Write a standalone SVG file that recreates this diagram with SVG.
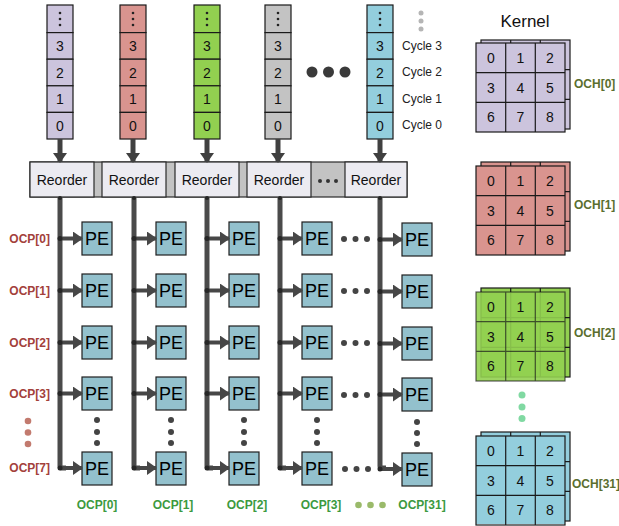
<svg xmlns="http://www.w3.org/2000/svg" width="619" height="526" viewBox="0 0 619 526">
  <defs>
    <style>
      text { font-family: "Liberation Sans", Arial, sans-serif; }
      .cell { stroke: #1a1a1a; stroke-width: 1.2; }
      .num { font-size: 14px; text-anchor: middle; fill: #111; }
      .cyc { font-size: 12px; fill: #222; }
      .pe { fill: #93c1cd; stroke: #1e1e1e; stroke-width: 1.2; }
      .pet { font-size: 18px; text-anchor: middle; fill: #000; }
      .reo { fill: #ecebf1; stroke: #2a2a2a; stroke-width: 1.2; }
      .reot { font-size: 14px; text-anchor: middle; fill: #111; }
      .bus { stroke: #4a4a4a; stroke-width: 5; fill: none; }
      .arr { stroke: #474747; stroke-width: 4; fill: none; }
      .ocpl { font-size: 12px; font-weight: bold; fill: #a3413b; text-anchor: end; }
      .ocpb { font-size: 12px; font-weight: bold; fill: #3c9a3f; text-anchor: middle; }
      .och { font-size: 12px; font-weight: bold; fill: #5b6e2f; }
      .kl { stroke: #1a1a1a; stroke-width: 1.2; fill: none; }
      .dot { fill: #444; }
      .purple { fill: #ccc4dd; }
      .red { fill: #d9948f; }
      .green { fill: #92d050; }
      .gray { fill: #c3c3c3; }
      .blue { fill: #93cedd; }
    </style>
    <marker id="ah" markerUnits="userSpaceOnUse" markerWidth="10" markerHeight="14" refX="9" refY="7" orient="auto">
      <path d="M0,0 L10,7 L0,14 Z" fill="#474747"/>
    </marker>
    <marker id="ahd" markerUnits="userSpaceOnUse" markerWidth="10" markerHeight="14" refX="9" refY="7" orient="auto">
      <path d="M0,0 L10,7 L0,14 Z" fill="#404040"/>
    </marker>
    <!-- one input column of 5 cells -->
    <g id="stack">
      <rect class="cell" x="0" y="0" width="26" height="27.6"/>
      <rect class="cell" x="0" y="27.6" width="26" height="26.6"/>
      <rect class="cell" x="0" y="54.2" width="26" height="26.6"/>
      <rect class="cell" x="0" y="80.8" width="26" height="26.6"/>
      <rect class="cell" x="0" y="107.4" width="26" height="26.6"/>
      <circle cx="13" cy="8" r="1.3" fill="#222"/>
      <circle cx="13" cy="14" r="1.3" fill="#222"/>
      <circle cx="13" cy="20" r="1.3" fill="#222"/>
      <text class="num" x="13" y="46">3</text>
      <text class="num" x="13" y="72.5">2</text>
      <text class="num" x="13" y="99">1</text>
      <text class="num" x="13" y="125.5">0</text>
    </g>
    <!-- 3x3 kernel plane grid lines and digits -->
    <g id="kgrid">
      <rect class="kl" x="0" y="0" width="89" height="89"/>
      <line class="kl" x1="29.7" y1="0" x2="29.7" y2="89"/>
      <line class="kl" x1="59.3" y1="0" x2="59.3" y2="89"/>
      <line class="kl" x1="0" y1="29.7" x2="89" y2="29.7"/>
      <line class="kl" x1="0" y1="59.3" x2="89" y2="59.3"/>
    </g>
    <g id="kdigits">
      <text class="num" x="15" y="20">0</text>
      <text class="num" x="44.5" y="20">1</text>
      <text class="num" x="74" y="20">2</text>
      <text class="num" x="15" y="49.5">3</text>
      <text class="num" x="44.5" y="49.5">4</text>
      <text class="num" x="74" y="49.5">5</text>
      <text class="num" x="15" y="79">6</text>
      <text class="num" x="44.5" y="79">7</text>
      <text class="num" x="74" y="79">8</text>
    </g>
    <g id="pebox">
      <rect class="pe" x="0" y="0" width="30" height="33"/>
      <text class="pet" x="15" y="23">PE</text>
    </g>
  </defs>

  <!-- input columns -->
  <g id="in0" transform="translate(47,5)"><use href="#stack" class="purple"/></g>
  <g id="in1" transform="translate(120,5)"><use href="#stack" class="red"/></g>
  <g id="in2" transform="translate(194,5)"><use href="#stack" class="green"/></g>
  <g id="in3" transform="translate(265,5)"><use href="#stack" class="gray"/></g>
  <g id="in4" transform="translate(367,5)"><use href="#stack" class="blue"/></g>

  <!-- big dots between input columns -->
  <g id="in-dots" fill="#3a3a3a">
    <circle cx="312" cy="72" r="5.5"/>
    <circle cx="328.5" cy="72" r="5.5"/>
    <circle cx="345" cy="72" r="5.5"/>
  </g>

  <!-- cycle labels -->
  <g id="cycles">
    <circle cx="421" cy="13" r="2.5" fill="#b5b5b5"/>
    <circle cx="421" cy="21" r="2.5" fill="#b5b5b5"/>
    <circle cx="421" cy="29" r="2.5" fill="#b5b5b5"/>
    <text class="cyc" x="402" y="49.5">Cycle 3</text>
    <text class="cyc" x="402" y="76">Cycle 2</text>
    <text class="cyc" x="402" y="102.5">Cycle 1</text>
    <text class="cyc" x="402" y="129">Cycle 0</text>
  </g>

  <!-- reorder bar -->
  <g id="reorder">
    <rect x="30" y="162" width="377" height="35" fill="#c3c3c3" stroke="#2a2a2a" stroke-width="1.2"/>
    <rect class="reo" x="30" y="162" width="64" height="35"/>
    <rect class="reo" x="102" y="162" width="64" height="35"/>
    <rect class="reo" x="175" y="162" width="64" height="35"/>
    <rect class="reo" x="247" y="162" width="64" height="35"/>
    <rect class="reo" x="345" y="162" width="62" height="35"/>
    <text class="reot" x="62" y="185">Reorder</text>
    <text class="reot" x="134" y="185">Reorder</text>
    <text class="reot" x="207" y="185">Reorder</text>
    <text class="reot" x="279" y="185">Reorder</text>
    <text class="reot" x="376" y="185">Reorder</text>
    <circle cx="320" cy="181" r="2" fill="#333"/>
    <circle cx="328" cy="181" r="2" fill="#333"/>
    <circle cx="336" cy="181" r="2" fill="#333"/>
  </g>

  <!-- PE array -->
  <g id="pe-array">
    <g id="pe-c0">
      <use href="#pebox" x="82" y="222"/>
      <use href="#pebox" x="82" y="274"/>
      <use href="#pebox" x="82" y="326"/>
      <use href="#pebox" x="82" y="377"/>
      <use href="#pebox" x="82" y="452"/>
    </g>
    <g id="pe-c1">
      <use href="#pebox" x="156" y="222"/>
      <use href="#pebox" x="156" y="274"/>
      <use href="#pebox" x="156" y="326"/>
      <use href="#pebox" x="156" y="377"/>
      <use href="#pebox" x="156" y="452"/>
    </g>
    <g id="pe-c2">
      <use href="#pebox" x="229" y="222"/>
      <use href="#pebox" x="229" y="274"/>
      <use href="#pebox" x="229" y="326"/>
      <use href="#pebox" x="229" y="377"/>
      <use href="#pebox" x="229" y="452"/>
    </g>
    <g id="pe-c3">
      <use href="#pebox" x="302" y="222"/>
      <use href="#pebox" x="302" y="274"/>
      <use href="#pebox" x="302" y="326"/>
      <use href="#pebox" x="302" y="377"/>
      <use href="#pebox" x="302" y="452"/>
    </g>
    <g id="pe-c4">
      <use href="#pebox" x="402" y="223"/>
      <use href="#pebox" x="402" y="275"/>
      <use href="#pebox" x="402" y="327"/>
      <use href="#pebox" x="402" y="378"/>
      <use href="#pebox" x="402" y="453"/>
    </g>
  </g>

  <!-- connectors -->
  <g id="connectors">
    <!-- input columns to reorder units -->
    <g stroke="#404040" stroke-width="5" marker-end="url(#ahd)">
      <line x1="60" y1="139" x2="60" y2="162"/>
      <line x1="133" y1="139" x2="133" y2="162"/>
      <line x1="207" y1="139" x2="207" y2="162"/>
      <line x1="278" y1="139" x2="278" y2="162"/>
      <line x1="380" y1="139" x2="380" y2="162"/>
    </g>
    <!-- vertical buses -->
    <path class="bus" d="M60,197 V466 Q60,468 62,468 H66"/>
    <path class="bus" d="M134,197 V466 Q134,468 136,468 H140"/>
    <path class="bus" d="M207,197 V466 Q207,468 209,468 H213"/>
    <path class="bus" d="M280,197 V466 Q280,468 282,468 H286"/>
    <path class="bus" d="M380,197 V466 Q380,468 382,468 H386"/>
    <!-- bus to PE arrows -->
    <g class="arr" marker-end="url(#ah)">
      <line x1="60" y1="238.5" x2="82" y2="238.5"/>
      <line x1="60" y1="290.5" x2="82" y2="290.5"/>
      <line x1="60" y1="342.5" x2="82" y2="342.5"/>
      <line x1="60" y1="393.5" x2="82" y2="393.5"/>
      <line x1="60" y1="468" x2="82" y2="468"/>
      <line x1="134" y1="238.5" x2="156" y2="238.5"/>
      <line x1="134" y1="290.5" x2="156" y2="290.5"/>
      <line x1="134" y1="342.5" x2="156" y2="342.5"/>
      <line x1="134" y1="393.5" x2="156" y2="393.5"/>
      <line x1="134" y1="468" x2="156" y2="468"/>
      <line x1="207" y1="238.5" x2="229" y2="238.5"/>
      <line x1="207" y1="290.5" x2="229" y2="290.5"/>
      <line x1="207" y1="342.5" x2="229" y2="342.5"/>
      <line x1="207" y1="393.5" x2="229" y2="393.5"/>
      <line x1="207" y1="468" x2="229" y2="468"/>
      <line x1="280" y1="238.5" x2="302" y2="238.5"/>
      <line x1="280" y1="290.5" x2="302" y2="290.5"/>
      <line x1="280" y1="342.5" x2="302" y2="342.5"/>
      <line x1="280" y1="393.5" x2="302" y2="393.5"/>
      <line x1="280" y1="468" x2="302" y2="468"/>
      <line x1="380" y1="239.5" x2="402" y2="239.5"/>
      <line x1="380" y1="291.5" x2="402" y2="291.5"/>
      <line x1="380" y1="343.5" x2="402" y2="343.5"/>
      <line x1="380" y1="394.5" x2="402" y2="394.5"/>
      <line x1="380" y1="469" x2="402" y2="469"/>
    </g>
    <!-- junction dots -->
    <g fill="#262626">
      <circle cx="60" cy="198" r="2"/><circle cx="134" cy="198" r="2"/><circle cx="207" cy="198" r="2"/><circle cx="280" cy="198" r="2"/><circle cx="380" cy="198" r="2"/>
      <circle cx="60" cy="238.5" r="2.5"/><circle cx="60" cy="290.5" r="2.5"/><circle cx="60" cy="342.5" r="2.5"/><circle cx="60" cy="393.5" r="2.5"/><circle cx="60" cy="468" r="2.5"/>
      <circle cx="134" cy="238.5" r="2.5"/><circle cx="134" cy="290.5" r="2.5"/><circle cx="134" cy="342.5" r="2.5"/><circle cx="134" cy="393.5" r="2.5"/><circle cx="134" cy="468" r="2.5"/>
      <circle cx="207" cy="238.5" r="2.5"/><circle cx="207" cy="290.5" r="2.5"/><circle cx="207" cy="342.5" r="2.5"/><circle cx="207" cy="393.5" r="2.5"/><circle cx="207" cy="468" r="2.5"/>
      <circle cx="280" cy="238.5" r="2.5"/><circle cx="280" cy="290.5" r="2.5"/><circle cx="280" cy="342.5" r="2.5"/><circle cx="280" cy="393.5" r="2.5"/><circle cx="280" cy="468" r="2.5"/>
      <circle cx="380" cy="239.5" r="2.5"/><circle cx="380" cy="291.5" r="2.5"/><circle cx="380" cy="343.5" r="2.5"/><circle cx="380" cy="394.5" r="2.5"/><circle cx="380" cy="469" r="2.5"/>
    </g>
  </g>

  <!-- ellipsis dots in the PE array -->
  <g id="pe-dots" class="dot">
    <circle cx="97" cy="420" r="3"/><circle cx="97" cy="432" r="3"/><circle cx="97" cy="443" r="3"/>
    <circle cx="171" cy="420" r="3"/><circle cx="171" cy="432" r="3"/><circle cx="171" cy="443" r="3"/>
    <circle cx="244" cy="420" r="3"/><circle cx="244" cy="432" r="3"/><circle cx="244" cy="443" r="3"/>
    <circle cx="317" cy="420" r="3"/><circle cx="317" cy="432" r="3"/><circle cx="317" cy="443" r="3"/>
    <circle cx="417" cy="422" r="3"/><circle cx="417" cy="433" r="3"/><circle cx="417" cy="444" r="3"/>
    <circle cx="344" cy="239" r="3"/><circle cx="355.5" cy="239" r="3"/><circle cx="367" cy="239" r="3"/>
    <circle cx="344" cy="291" r="3"/><circle cx="355.5" cy="291" r="3"/><circle cx="367" cy="291" r="3"/>
    <circle cx="344" cy="343" r="3"/><circle cx="355.5" cy="343" r="3"/><circle cx="367" cy="343" r="3"/>
    <circle cx="344" cy="395" r="3"/><circle cx="355.5" cy="395" r="3"/><circle cx="367" cy="395" r="3"/>
    <circle cx="345" cy="469" r="3"/><circle cx="356.5" cy="469" r="3"/><circle cx="368" cy="469" r="3"/>
  </g>

  <!-- row labels -->
  <g id="ocp-rows">
    <text class="ocpl" x="50" y="242.5">OCP[0]</text>
    <text class="ocpl" x="50" y="294.5">OCP[1]</text>
    <text class="ocpl" x="50" y="346.5">OCP[2]</text>
    <text class="ocpl" x="50" y="397.5">OCP[3]</text>
    <text class="ocpl" x="50" y="472">OCP[7]</text>
    <circle cx="28" cy="421" r="3.3" fill="#c27a6e"/>
    <circle cx="28" cy="432.5" r="3.3" fill="#c27a6e"/>
    <circle cx="28" cy="444" r="3.3" fill="#c27a6e"/>
  </g>

  <!-- column labels -->
  <g id="ocp-cols">
    <text class="ocpb" x="97" y="509">OCP[0]</text>
    <text class="ocpb" x="173" y="509">OCP[1]</text>
    <text class="ocpb" x="247" y="509">OCP[2]</text>
    <text class="ocpb" x="321" y="509">OCP[3]</text>
    <circle cx="358.5" cy="505" r="3.3" fill="#9aba6a"/>
    <circle cx="370.5" cy="505" r="3.3" fill="#9aba6a"/>
    <circle cx="382.5" cy="505" r="3.3" fill="#9aba6a"/>
    <text class="ocpb" x="422" y="509">OCP[31]</text>
  </g>

  <!-- kernels -->
  <text x="525" y="27" font-size="17" text-anchor="middle" fill="#111">Kernel</text>

  <g id="och0">
    <g transform="translate(481,40)"><rect x="0" y="0" width="89" height="89" class="purple"/><use href="#kgrid"/></g>
    <g transform="translate(476,43)"><rect x="0" y="0" width="89" height="89" class="purple"/><use href="#kgrid"/><use href="#kdigits"/></g>
    <text class="och" x="574" y="88">OCH[0]</text>
  </g>
  <g id="och1">
    <g transform="translate(481,162)"><rect x="0" y="0" width="89" height="89" class="red"/><use href="#kgrid"/></g>
    <g transform="translate(476,166)"><rect x="0" y="0" width="89" height="89" class="red"/><use href="#kgrid"/><use href="#kdigits"/></g>
    <text class="och" x="574" y="209">OCH[1]</text>
  </g>
  <g id="och2">
    <g transform="translate(481,288)"><rect x="0" y="0" width="89" height="89" class="green"/><use href="#kgrid"/></g>
    <g transform="translate(476,292)"><rect x="0" y="0" width="89" height="89" class="green" opacity="0.9"/><use href="#kgrid" opacity="0.7"/><use href="#kdigits"/></g>
    <text class="och" x="574" y="337">OCH[2]</text>
  </g>
  <g id="och-dots" fill="#80d9a2">
    <circle cx="522" cy="395" r="3.5"/>
    <circle cx="522" cy="407" r="3.5"/>
    <circle cx="522" cy="418.5" r="3.5"/>
  </g>
  <g id="och31">
    <g transform="translate(481,432)"><rect x="0" y="0" width="89" height="89" class="blue"/><use href="#kgrid"/></g>
    <g transform="translate(476,436)"><rect x="0" y="0" width="89" height="88" class="blue"/><use href="#kgrid"/><use href="#kdigits"/></g>
    <text class="och" x="572" y="488" font-size="11.5">OCH[31]</text>
  </g>
</svg>
